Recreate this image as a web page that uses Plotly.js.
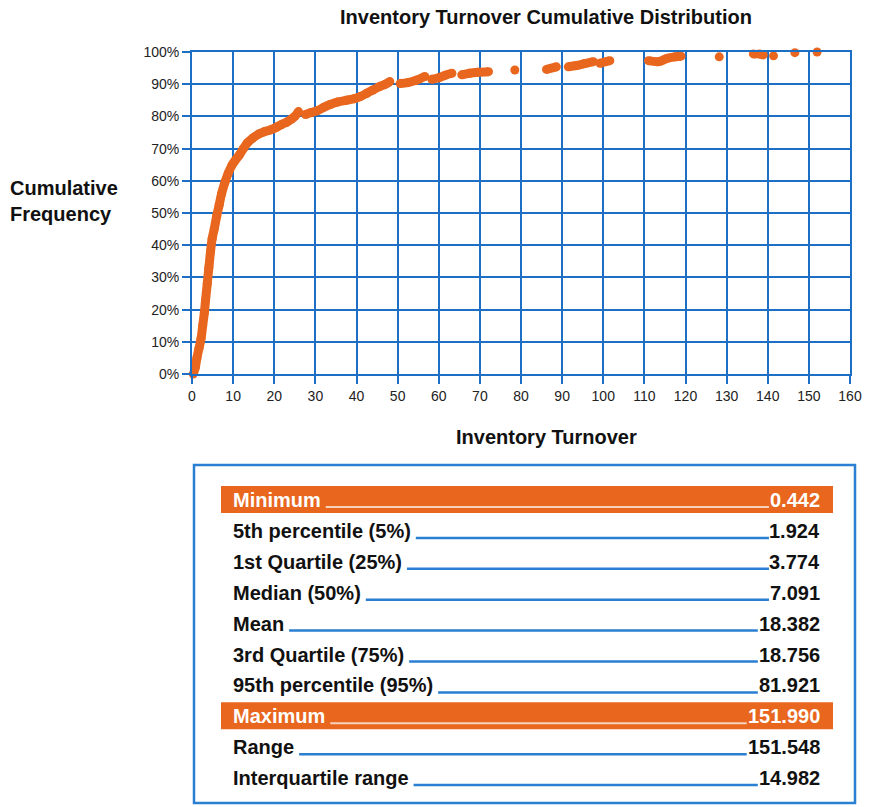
<!DOCTYPE html>
<html>
<head>
<meta charset="utf-8">
<script src="https://cdn.plot.ly/plotly-3.0.1.min.js"></script>
<style>html,body{margin:0;padding:0;background:#fff;}#chart{width:875px;height:807px;}</style>
</head>
<body>
<div id="chart"></div>
<script>
// ---- Data (null = gap between point groups) ----
const turnover = [
  0.3,0.8,1.2,1.7,2.2,2.6,3.0,3.3,3.7,4.1,4.5,4.9,5.4,6.0,6.6,7.2,8.0,8.8,9.7,10.6,11.5,12.5,13.5,14.8,16.2,17.5,19.0,20.5,21.8,23.0,24.2,25.0,25.9,
  null,
  27.6,29.0,30.5,32.0,33.6,35.5,37.5,39.5,41.0,42.5,44.0,45.5,47.0,48.1,
  null,
  50.6,52.5,54.5,56.6,
  null,
  58.3,60.0,61.6,63.2,
  null,
  65.6,67.5,69.5,72.1,
  null, 78.5,
  null, 86.2,88.6,
  null, 91.5,93.5,95.5,97.6,
  null, 99.2,101.6,
  null, 111.0,113.5,115.5,117.5,118.9,
  null, 128.2,
  null, 136.5,138.0,138.9,
  null, 141.4,
  null, 146.6,
  null, 152.0
];
const cumFreq = [
  0.00,0.02,0.05,0.08,0.11,0.15,0.19,0.23,0.28,0.33,0.38,0.42,0.45,0.49,0.525,0.56,0.595,0.623,0.648,0.665,0.68,0.70,0.718,0.733,0.745,0.752,0.758,0.766,0.775,0.782,0.792,0.80,0.815,
  null,
  0.806,0.812,0.818,0.828,0.837,0.845,0.85,0.855,0.862,0.872,0.882,0.892,0.90,0.908,
  null,
  0.902,0.905,0.912,0.924,
  null,
  0.915,0.92,0.928,0.934,
  null,
  0.929,0.934,0.937,0.939,
  null, 0.944,
  null, 0.946,0.954,
  null, 0.954,0.958,0.964,0.97,
  null, 0.965,0.973,
  null, 0.973,0.97,0.98,0.985,0.987,
  null, 0.985,
  null, 0.994,0.994,0.991,
  null, 0.988,
  null, 0.998,
  null, 1.0
];
const xTicks = [0,10,20,30,40,50,60,70,80,90,100,110,120,130,140,150,160];
const yTicks = [0,0.1,0.2,0.3,0.4,0.5,0.6,0.7,0.8,0.9,1.0];
const statLabels = ['Minimum','5th percentile (5%)','1st Quartile (25%)','Median (50%)','Mean',
  '3rd Quartile (75%)','95th percentile (95%)','Maximum','Range','Interquartile range'];
const statValues = ['0.442','1.924','3.774','7.091','18.382','18.756','81.921','151.990','151.548','14.982'];
const highlightRows = [0, 7];

// ---- Styles ----
const ORANGE = '#E8661E';
const BLUE = '#1D6FC4';
const LEADER = '#2A7FD2';
const FONT = '"Liberation Sans", Arial, sans-serif';

// plot area in pixels
const L = 192, R = 850, T = 52, B = 374;
const px2x = p => (p - L) / (R - L);
const px2y = p => (B - p) / (B - T);

const canvas = document.createElement('canvas');
const ctx = canvas.getContext('2d');
ctx.font = 'bold 20px "Liberation Sans"';
const textW = s => ctx.measureText(s).width;

const annotations = [];
const shapes = [];

// y-axis label (horizontal) and x-axis title
annotations.push({xref:'paper', yref:'paper', x:px2x(8), y:px2y(201), xanchor:'left', yanchor:'middle',
  align:'left', showarrow:false, text:'<b>Cumulative<br>Frequency</b>', font:{family:FONT, size:20, color:'#111'}});
annotations.push({xref:'paper', yref:'paper', x:px2x(546), y:px2y(437), xanchor:'center', yanchor:'middle',
  showarrow:false, text:'<b>Inventory Turnover</b>', font:{family:FONT, size:20, color:'#111'}});

// table frame
shapes.push({type:'rect', xref:'paper', yref:'paper', x0:px2x(194), x1:px2x(855), y0:px2y(465), y1:px2y(803),
  line:{color:LEADER, width:2.5}, fillcolor:'rgba(0,0,0,0)', layer:'above'});

const rowY0 = 500, rowStep = 30.9, labelX = 232, valueX = 821;
statLabels.forEach((lab, i) => {
  const cy = rowY0 + i * rowStep;
  const hi = highlightRows.includes(i);
  if (hi) {
    shapes.push({type:'rect', xref:'paper', yref:'paper', x0:px2x(221), x1:px2x(833), y0:px2y(cy - 14), y1:px2y(cy + 13),
      line:{width:0}, fillcolor:ORANGE, layer:'above'});
  }
  const col = hi ? '#FFFFFF' : '#111111';
  annotations.push({xref:'paper', yref:'paper', x:px2x(labelX), y:px2y(cy), xanchor:'left', yanchor:'middle',
    showarrow:false, text:'<b>' + lab + '</b>', font:{family:FONT, size:20, color:col}, borderpad:0});
  annotations.push({xref:'paper', yref:'paper', x:px2x(valueX), y:px2y(cy), xanchor:'right', yanchor:'middle',
    showarrow:false, text:'<b>' + statValues[i] + '</b>', font:{family:FONT, size:20, color:col}, borderpad:0});
  const x0 = labelX + textW(lab) + 6;
  const x1 = valueX - textW(statValues[i]) - 2;
  shapes.push({type:'line', xref:'paper', yref:'paper', x0:px2x(x0), x1:px2x(x1), y0:px2y(cy + 7), y1:px2y(cy + 7),
    line:{color: hi ? '#F6D2BA' : LEADER, width: hi ? 2 : 2.5}, layer:'above'});
});

const trace = {
  type:'scatter', mode:'lines+markers', x:turnover, y:cumFreq,
  connectgaps:false, cliponaxis:false,
  line:{color:ORANGE, width:9, shape:'spline', smoothing:1},
  marker:{color:ORANGE, size:9},
  hoverinfo:'x+y'
};

const axisCommon = {
  showgrid:true, gridcolor:BLUE, gridwidth:2,
  showline:true, linecolor:BLUE, linewidth:2, mirror:true,
  ticks:'outside', ticklen:8, tickwidth:2, tickcolor:BLUE,
  zeroline:false, fixedrange:true,
  tickfont:{family:FONT, size:14, color:'#222'}
};

const layout = {
  width:875, height:807, autosize:false,
  margin:{l:L, r:875 - R, t:T, b:807 - B, pad:0},
  paper_bgcolor:'#fff', plot_bgcolor:'#fff',
  showlegend:false,
  title:{text:'<b>Inventory Turnover Cumulative Distribution</b>', font:{family:FONT, size:20, color:'#111'},
    xref:'paper', x:px2x(546), xanchor:'center', yref:'container', y:1 - 17/807, yanchor:'middle'},
  xaxis:Object.assign({}, axisCommon, {range:[0,160], tickmode:'array', tickvals:xTicks, ticktext:xTicks.map(String)}),
  yaxis:Object.assign({}, axisCommon, {range:[0,1], tickmode:'array', tickvals:yTicks,
    ticktext:yTicks.map(v => Math.round(v*100) + '%')}),
  annotations:annotations,
  shapes:shapes
};

Plotly.newPlot('chart', [trace], layout, {displayModeBar:false, staticPlot:true});
</script>
</body>
</html>
